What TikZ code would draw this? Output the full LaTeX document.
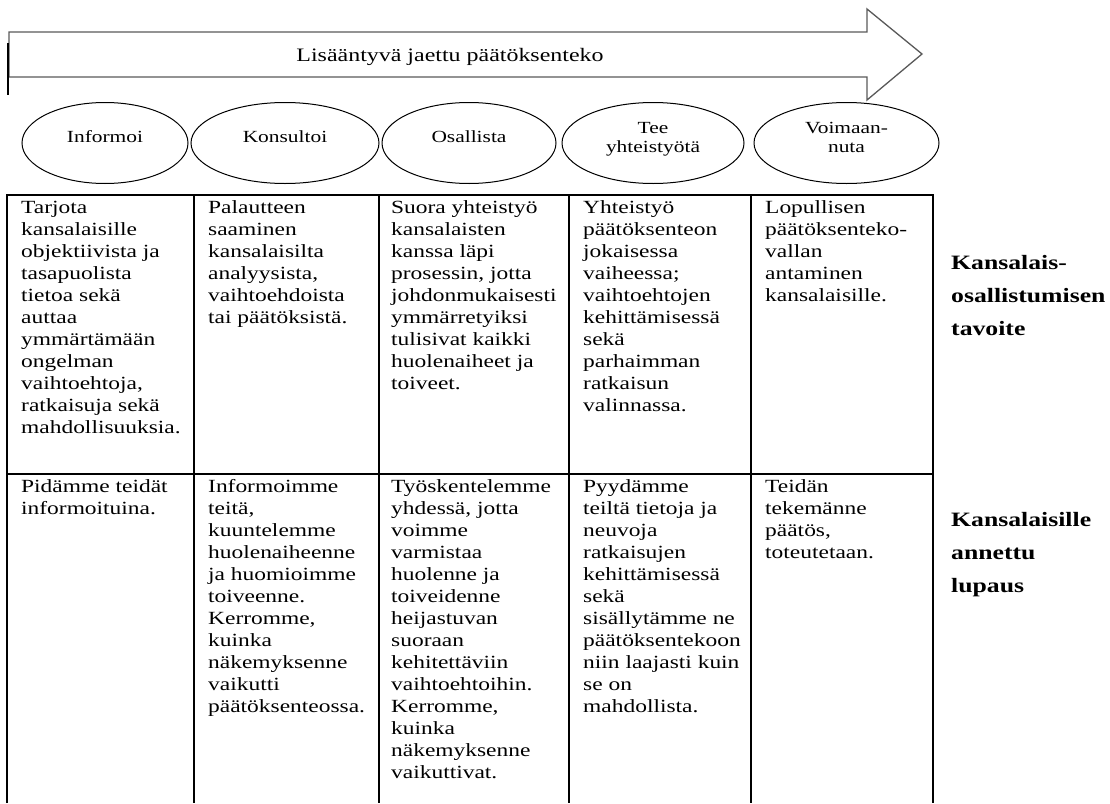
\documentclass[tikz,border=0pt]{standalone}
\usepackage{fontspec}
\setmainfont{Liberation Serif}[FakeStretch=1.26]
\usetikzlibrary{shapes.geometric,positioning}

\begin{document}
\begin{tikzpicture}[x=1pt,y=-1pt,
  grid/.style={line width=1.4pt},
  stage/.style={ellipse,draw,line width=1pt,minimum height=81pt,inner sep=0pt,text depth=12pt,align=center,font=\fontsize{17}{19}\selectfont},
  cell/.style={anchor=north west,align=left,inner sep=0pt,font=\fontsize{18.6}{22}\selectfont},
  rowname/.style={anchor=north west,align=left,inner sep=0pt,font=\bfseries\fontsize{20.4}{33}\selectfont}]
  \useasboundingbox (0,0) rectangle (1110,803);

  % big arrow on top
  \draw[line width=1.3pt,draw=black!65] (9,32) -- (867,32) -- (867,9) -- (922,54) -- (867,100) -- (867,77) -- (9,77) -- cycle;
  \draw[line width=1.8pt] (8,43) -- (8,95);
  \node[font=\fontsize{19}{21}\selectfont] (trend) at (450,57) {Lisääntyvä jaettu päätöksenteko};

  % the five levels
  \node[stage,minimum width=166pt] (inform) at (105,143) {Informoi};
  \node[stage,minimum width=188pt] (consult) [right=2pt of inform] {Konsultoi};
  \node[stage,minimum width=174pt] (involve) [right=2pt of consult] {Osallista};
  \node[stage,minimum width=182pt] (collab) [right=5pt of involve] {Tee\\yhteistyötä};
  \node[stage,minimum width=185pt] (empower) [right=9pt of collab] {Voimaan-\\nuta};

  % table
  \draw[grid] (7,803) -- (7,195) -- (933,195) -- (933,803);
  \foreach \x in {194,379,569,751}
    \draw[grid] (\x,195) -- (\x,803);
  \draw[grid] (7,474) -- (933,474);

  \node[cell] (goalA) at (21,200.5) {Tarjota\\kansalaisille\\objektiivista ja\\tasapuolista\\tietoa sekä\\auttaa\\ymmärtämään\\ongelman\\vaihtoehtoja,\\ratkaisuja sekä\\mahdollisuuksia.};
  \node[cell] (goalB) at (208,200.5) {Palautteen\\saaminen\\kansalaisilta\\analyysista,\\vaihtoehdoista\\tai päätöksistä.};
  \node[cell] (goalC) at (391,200.5) {Suora yhteistyö\\kansalaisten\\kanssa läpi\\prosessin, jotta\\johdonmukaisesti\\ymmärretyiksi\\tulisivat kaikki\\huolenaiheet ja\\toiveet.};
  \node[cell] (goalD) at (583,200.5) {Yhteistyö\\päätöksenteon\\jokaisessa\\vaiheessa;\\vaihtoehtojen\\kehittämisessä\\sekä\\parhaimman\\ratkaisun\\valinnassa.};
  \node[cell] (goalE) at (765,200.5) {Lopullisen\\päätöksenteko-\\vallan\\antaminen\\kansalaisille.};

  \node[cell] (promA) at (21,479.5) {Pidämme teidät\\informoituina.};
  \node[cell] (promB) at (208,479.5) {Informoimme\\teitä,\\kuuntelemme\\huolenaiheenne\\ja huomioimme\\toiveenne.\\Kerromme,\\kuinka\\näkemyksenne\\vaikutti\\päätöksenteossa.};
  \node[cell] (promC) at (391,479.5) {Työskentelemme\\yhdessä, jotta\\voimme\\varmistaa\\huolenne ja\\toiveidenne\\heijastuvan\\suoraan\\kehitettäviin\\vaihtoehtoihin.\\Kerromme,\\kuinka\\näkemyksenne\\vaikuttivat.};
  \node[cell] (promD) at (583,479.5) {Pyydämme\\teiltä tietoja ja\\neuvoja\\ratkaisujen\\kehittämisessä\\sekä\\sisällytämme ne\\päätöksentekoon\\niin laajasti kuin\\se on\\mahdollista.};
  \node[cell] (promE) at (765,479.5) {Teidän\\tekemänne\\päätös,\\toteutetaan.};

  % row titles
  \node[rowname] (goal) at (951,255) {Kansalais-\\osallistumisen\\tavoite};
  \node[rowname] (promise) at (951,512) {Kansalaisille\\annettu\\lupaus};
\end{tikzpicture}
\end{document}
